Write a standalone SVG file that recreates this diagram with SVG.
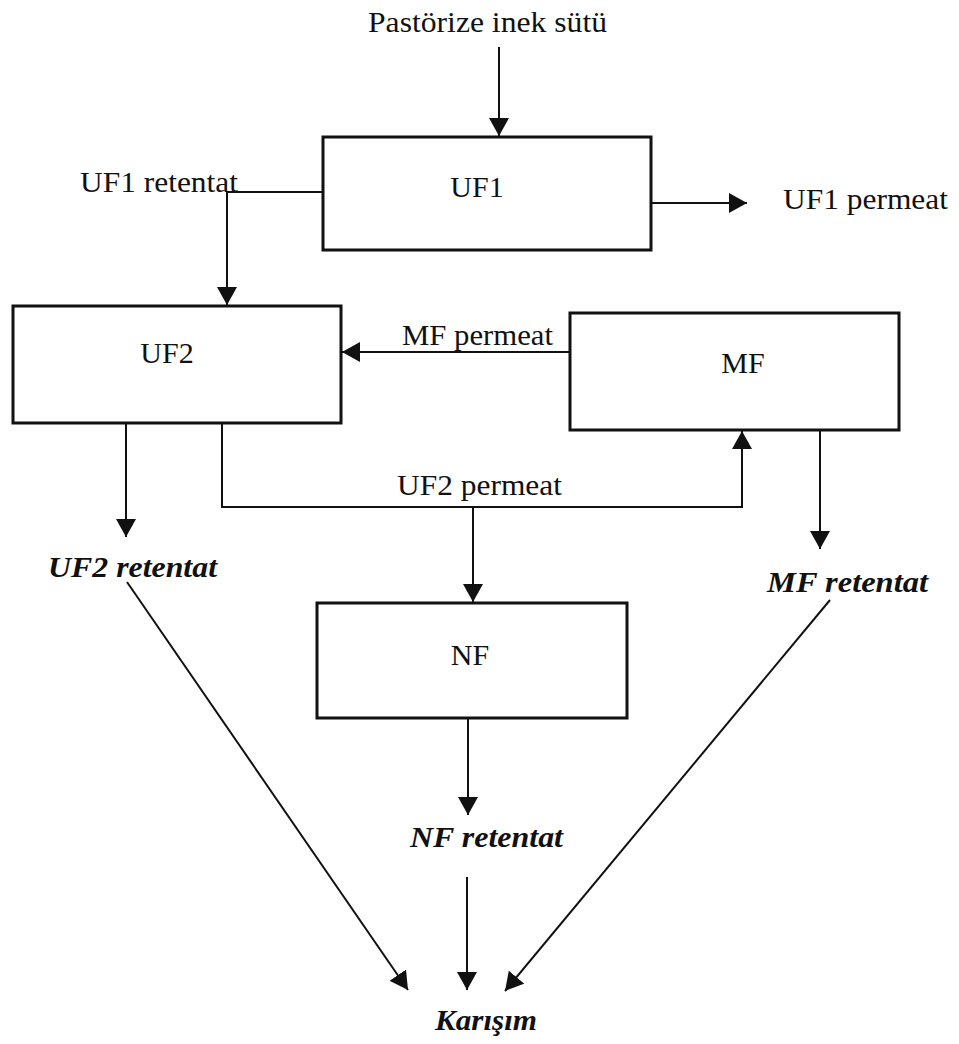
<svg xmlns="http://www.w3.org/2000/svg" width="959" height="1044" viewBox="0 0 959 1044">
<style>
.bg{fill:#fff}
.box{fill:none;stroke:#111;stroke-width:3}
.lbl{font-family:"Liberation Serif","Times New Roman",serif;font-size:30px;fill:#111}
.mid{text-anchor:middle}
.bi{font-weight:bold;font-style:italic}
.con{fill:none;stroke:#111;stroke-width:2}
</style>
<defs>
<marker id="ah" markerUnits="userSpaceOnUse" markerWidth="20" markerHeight="20" refX="18" refY="10" orient="auto">
<path d="M0,0 L18,10 L0,20 z" fill="#111"/>
</marker>
</defs>
<rect class="bg" width="959" height="1044"/>
<text class="lbl" x="368" y="32" textLength="239" lengthAdjust="spacingAndGlyphs">Pastörize inek sütü</text>
<text class="lbl" x="80" y="192" textLength="158" lengthAdjust="spacingAndGlyphs">UF1 retentat</text>
<text class="lbl" x="783" y="209" textLength="165" lengthAdjust="spacingAndGlyphs">UF1 permeat</text>
<text class="lbl" x="402" y="345" textLength="151" lengthAdjust="spacingAndGlyphs">MF permeat</text>
<text class="lbl" x="397" y="495" textLength="165" lengthAdjust="spacingAndGlyphs">UF2 permeat</text>
<text class="lbl bi" x="48" y="577" textLength="169" lengthAdjust="spacingAndGlyphs">UF2 retentat</text>
<text class="lbl bi" x="767" y="592" textLength="161" lengthAdjust="spacingAndGlyphs">MF retentat</text>
<text class="lbl bi" x="410" y="847" textLength="153" lengthAdjust="spacingAndGlyphs">NF retentat</text>
<text class="lbl bi" x="435" y="1030" textLength="102" lengthAdjust="spacingAndGlyphs">Karışım</text>
<g id="uf1"><rect class="box" x="323" y="137" width="328" height="113"/><text class="lbl mid" x="477" y="197">UF1</text></g>
<g id="uf2"><rect class="box" x="13" y="306" width="328" height="117"/><text class="lbl mid" x="167" y="363">UF2</text></g>
<g id="mf"><rect class="box" x="570" y="313" width="329" height="117"/><text class="lbl mid" x="743" y="373">MF</text></g>
<g id="nf"><rect class="box" x="317" y="603" width="310" height="115"/><text class="lbl mid" x="470" y="665">NF</text></g>
<g id="connectors">
<path class="con" d="M499,47 V136" marker-end="url(#ah)"/>
<path class="con" d="M322,192 H227 V305" marker-end="url(#ah)"/>
<path class="con" d="M651,203 H747" marker-end="url(#ah)"/>
<path class="con" d="M570,352 H342" marker-end="url(#ah)"/>
<path class="con" d="M126,423 V537" marker-end="url(#ah)"/>
<path class="con" d="M222,423 V507 H742 V431" marker-end="url(#ah)"/>
<path class="con" d="M473,507 V602" marker-end="url(#ah)"/>
<path class="con" d="M820,430 V549" marker-end="url(#ah)"/>
<path class="con" d="M468,718 V815" marker-end="url(#ah)"/>
<path class="con" d="M467,877 V990" marker-end="url(#ah)"/>
<path class="con" d="M127,582 L408,990" marker-end="url(#ah)"/>
<path class="con" d="M830,600 L505,991" marker-end="url(#ah)"/>
</g>
</svg>
